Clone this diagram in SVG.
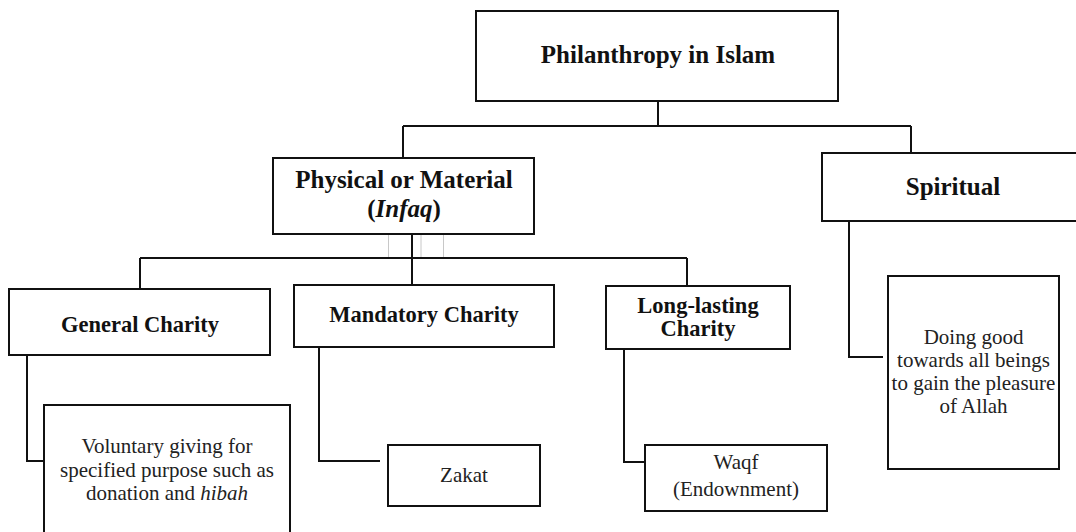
<svg xmlns="http://www.w3.org/2000/svg" width="1076" height="532" viewBox="0 0 1076 532">
<style>
.box{fill:#fff;stroke:#111;stroke-width:2}
.con{fill:none;stroke:#111;stroke-width:2}
.ghost{fill:none;stroke:#c8c8c8;stroke-width:1}
.b{font-family:"Liberation Serif","Times New Roman",serif;font-weight:bold;fill:#111;text-anchor:middle}
.t1{font-size:25px}
.t2{font-size:22.5px}
.r{font-family:"Liberation Serif","Times New Roman",serif;font-size:21px;fill:#222;text-anchor:middle}
</style>
<rect width="1076" height="532" fill="#fff"/>
<g id="connectors">
<path class="ghost" d="M388.5 234V258M421 234V258M443.5 234V258"/>
<path class="con" d="M658 101V126M403 126H911M403 126V158M911 126V153"/>
<path class="con" d="M412 234V285M140 258H687M140 258V289M687 258V286"/>
<path class="con" d="M27 355V461H44M319 347V461H380M624 349V462H645M849 221V357H883"/>
</g>
<g id="philanthropy">
<rect class="box" x="476" y="11" width="362" height="90"/>
<text class="b t1" x="658" y="63">Philanthropy in Islam</text>
</g>
<g id="physical">
<rect class="box" x="273" y="158" width="261" height="76"/>
<text class="b t1" x="404" y="188">Physical or Material</text>
<text class="b t1" x="404" y="217">(<tspan font-style="italic">Infaq</tspan>)</text>
</g>
<g id="spiritual">
<rect class="box" x="822" y="153" width="260" height="68"/>
<text class="b t1" x="953" y="195">Spiritual</text>
</g>
<g id="general">
<rect class="box" x="9" y="289" width="261" height="66"/>
<text class="b t2" x="140" y="332">General Charity</text>
</g>
<g id="mandatory">
<rect class="box" x="294" y="285" width="260" height="62"/>
<text class="b t2" x="424" y="322">Mandatory Charity</text>
</g>
<g id="longlasting">
<rect class="box" x="606" y="286" width="184" height="63"/>
<text class="b t2" x="698" y="313">Long-lasting</text>
<text class="b t2" x="698" y="336">Charity</text>
</g>
<g id="voluntary">
<rect class="box" x="44" y="405" width="246" height="140"/>
<text class="r" x="167" y="453">Voluntary giving for</text>
<text class="r" x="167" y="476.5">specified purpose such as</text>
<text class="r" x="167" y="500">donation and <tspan font-style="italic">hibah</tspan></text>
</g>
<g id="zakat">
<rect class="box" x="388" y="445" width="152" height="61"/>
<text class="r" x="464" y="482">Zakat</text>
</g>
<g id="waqf">
<rect class="box" x="645" y="445" width="182" height="66"/>
<text class="r" x="736" y="469">Waqf</text>
<text class="r" x="736" y="496">(Endownment)</text>
</g>
<g id="doinggood">
<rect class="box" x="888" y="276" width="171" height="193"/>
<text class="r" x="973.5" y="344">Doing good</text>
<text class="r" x="973.5" y="367">towards all beings</text>
<text class="r" x="973.5" y="390">to gain the pleasure</text>
<text class="r" x="973.5" y="413">of Allah</text>
</g>
</svg>
